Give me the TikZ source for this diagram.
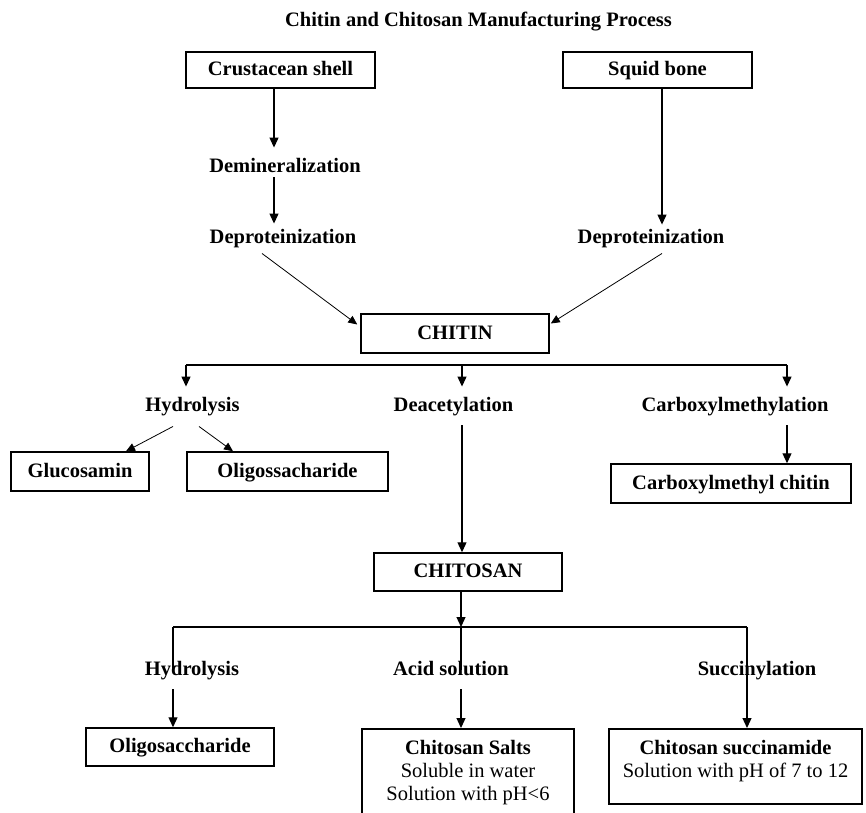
\documentclass[tikz,border=0pt]{standalone}
\usepackage{fontspec}
\setmainfont{Liberation Serif}
\usetikzlibrary{arrows.meta,calc}
\newcommand{\chartfont}{\fontsize{20.5}{23}\selectfont}
\tikzstyle{flow}=[-{Triangle[width=9pt,length=10pt]},line width=1.2pt]
\tikzstyle{slant}=[-{Triangle[width=8pt,length=9pt]},line width=0.8pt]
\tikzstyle{product}=[draw,line width=1.5pt,font=\chartfont\bfseries,inner xsep=0pt,inner ysep=0pt,text height=16pt,text depth=4.5pt]
\tikzstyle{stage}=[font=\chartfont\bfseries,inner xsep=0pt,inner ysep=9pt,text height=16pt,text depth=4.5pt]
\newcommand{\dropto}[3]{
  \draw[flow] (#1 |- #2) -- (#1 |- #3);
}

\begin{document}
\begin{tikzpicture}[x=1pt,y=-1pt]
\useasboundingbox (0,0) rectangle (866,812);
\node[font=\chartfont\bfseries] (title) at (478.5,22) {Chitin and Chitosan Manufacturing Process};

% raw materials
\node[product,minimum width=189pt,minimum height=36pt] (shell) at (280.5,70) {Crustacean shell};
\node[product,minimum width=189pt,minimum height=36pt] (squid) at (657.5,70) {Squid bone};
\node[stage] (demin) at (285,167) {Demineralization};
\node[stage] (deprotA) at (283,238) {Deproteinization};
\node[stage] (deprotB) at (651,238) {Deproteinization};
\coordinate (colA) at (274,0);
\coordinate (colB) at (662,0);
\draw[flow] (shell.south -| colA) -- (demin.north -| colA);
\draw[flow] ($(demin.south -| colA)+(0,-9)$) -- ($(deprotA.north -| colA)+(0,5)$);
\draw[flow] (squid.south -| colB) -- ($(deprotB.north -| colB)+(0,6)$);

% chitin
\node[product,minimum width=188pt,minimum height=39pt] (chitin) at (455,333.5) {CHITIN};
\draw[slant] ($(deprotA.south)+(-21,-4)$) -- ($(chitin.west)+(-3,-9)$);
\draw[slant] ($(deprotB.south)+(11,-4)$) -- ($(chitin.east)+(1,-10)$);

\coordinate (forkA) at (462,365);
\coordinate (colC) at (186,0);
\coordinate (colD) at (462,0);
\coordinate (colE) at (787,0);
\node[stage] (hydroA) at (192.5,406) {Hydrolysis};
\node[stage] (deacet) at (453.5,406) {Deacetylation};
\node[stage] (carbox) at (735,406) {Carboxylmethylation};
\draw[line width=1.2pt] (colC |- forkA) -- (colE |- forkA);
\foreach \c/\n in {colC/hydroA,colD/deacet,colE/carbox}
  \draw[flow] (\c |- forkA) -- (\c |- \n.north);

\node[product,minimum width=138pt,minimum height=39pt] (glucos) at (80,471.5) {Glucosamin};
\node[product,minimum width=201pt,minimum height=39pt] (oligoA) at (287.5,471.5) {Oligossacharide};
\node[product,minimum width=240pt,minimum height=39pt] (cmchitin) at (731,483.5) {Carboxylmethyl chitin};
\draw[slant] ($(hydroA.south)+(-19.5,1)$) -- ($(glucos.north)+(46,0)$);
\draw[slant] ($(hydroA.south)+(6.5,1)$) -- ($(oligoA.north)+(-54.5,0)$);
\dropto{colE}{carbox.south}{cmchitin.north}

% chitosan
\node[product,minimum width=188pt,minimum height=38pt] (chitosan) at (468,572) {CHITOSAN};
\dropto{colD}{deacet.south}{chitosan.north}

\coordinate (forkB) at (461,627);
\coordinate (colF) at (173,0);
\coordinate (colG) at (461,0);
\coordinate (colH) at (747,0);
\draw[flow] (chitosan.south -| colG) -- (forkB);
\draw[line width=1.2pt] (colF |- forkB) -- (colH |- forkB);
\node[stage] (hydroB) at (192,670) {Hydrolysis};
\node[stage] (acid) at (451,670) {Acid solution};
\node[stage] (succ) at (757,670) {Succinylation};
\draw[line width=1.2pt] (colF |- forkB) -- (colF |- hydroB.center);
\draw[line width=1.2pt] (colG |- forkB) -- (colG |- acid.center);

\node[product,minimum width=188pt,minimum height=38pt] (oligoB) at (180,747) {Oligosaccharide};
\node[product,anchor=north,minimum width=212pt,inner ysep=9.5pt,text depth=57pt] (salts) at (468,728)
  {\begin{tabular}[t]{@{}c@{}}Chitosan Salts\\ \mdseries Soluble in water\\ \mdseries Solution with pH<6\end{tabular}};
\node[product,anchor=north,minimum width=253pt,inner ysep=9.5pt,text depth=40pt] (succam) at (735.5,728)
  {\begin{tabular}[t]{@{}c@{}}Chitosan succinamide\\ \mdseries Solution with pH of 7 to 12\end{tabular}};
\dropto{colF}{hydroB.south}{oligoB.north}
\dropto{colG}{acid.south}{salts.north}
\dropto{colH}{forkB}{succam.north}
%\draw[flow] (succ.south -| colH) -- (succam.north -| colH);
\end{tikzpicture}
\end{document}
